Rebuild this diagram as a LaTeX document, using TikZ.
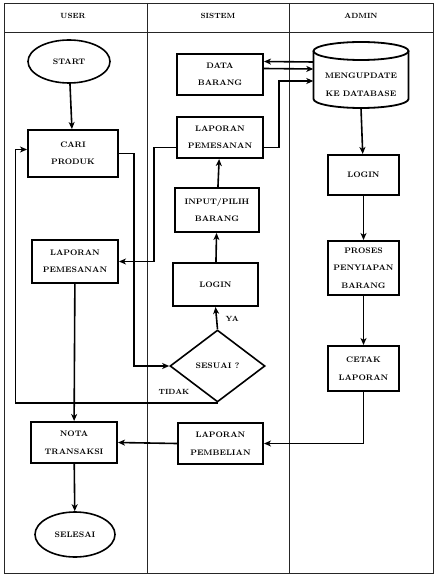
\documentclass[tikz,border=0pt]{standalone}
\usetikzlibrary{arrows.meta,shapes.geometric}
\begin{document}
\begin{tikzpicture}[x=1pt,y=-1pt,
  txt/.style={font=\fontsize{8}{17.5}\selectfont\bfseries, align=center},
  box/.style={txt, draw, line width=2pt, inner sep=0pt},
  oval/.style={txt, draw, ellipse, line width=1.6pt, inner sep=0pt},
  conn/.style={line width=1.6pt, -{Stealth[length=7pt,width=6pt,inset=2pt]}},
  lane/.style={line width=0.9pt, draw=black!85},
  hdr/.style={font=\fontsize{7.5}{8}\selectfont\bfseries}]
\useasboundingbox (0,0) rectangle (438,585);
% frame
\draw[lane] (4,3) rectangle (433,573);
\draw[lane] (4,32) -- (433,32);
\draw[lane] (147,3) -- (147,573);
\draw[lane] (289,3) -- (289,573);
\node[hdr] (huser) at (73,16) {USER};
\node[hdr] (hsis) at (218,16) {SISTEM};
\node[hdr] (hadm) at (361,16) {ADMIN};
% user lane
\node[oval, minimum width=82pt, minimum height=43pt] (start) at (69,61.5) {START};
\node[box, minimum width=90pt, minimum height=47pt] (cari) at (73,153.5) {CARI\\PRODUK};
\node[box, minimum width=86pt, minimum height=43pt] (lpu) at (75,261.5) {LAPORAN\\PEMESANAN};
\node[box, minimum width=86pt, minimum height=41pt] (nota) at (74,442.5) {NOTA\\TRANSAKSI};
\node[oval, minimum width=80pt, minimum height=45pt] (selesai) at (75,534.5) {SELESAI};
% sistem lane
\node[box, minimum width=86pt, minimum height=41pt] (data) at (220,74.5) {DATA\\BARANG};
\node[box, minimum width=86pt, minimum height=41pt] (lps) at (220,137.5) {LAPORAN\\PEMESANAN};
\node[box, minimum width=84pt, minimum height=44pt] (input) at (217,210) {INPUT/PILIH\\BARANG};
\node[box, minimum width=85pt, minimum height=43pt] (login1) at (215.5,284.5) {LOGIN};
\node[txt, draw, diamond, aspect=1.32, line width=1.6pt, inner sep=0pt, minimum width=95pt, minimum height=72pt] (sesuai) at (217.5,366) {SESUAI ?};
\node[box, minimum width=85pt, minimum height=41pt] (lpb) at (220.5,443.5) {LAPORAN\\PEMBELIAN};
% admin lane
\node[inner sep=0pt, minimum width=95pt, minimum height=66pt] (db) at (361,75) {};
\draw[line width=1.8pt] (361,51) ellipse [x radius=47.5pt, y radius=9pt];
\draw[line width=1.8pt] (313.5,51) -- (313.5,99) arc[start angle=180, end angle=360, x radius=47.5pt, y radius=9pt] -- (408.5,51);
\node[txt] (dbtext) at (361,85) {MENGUPDATE\\KE DATABASE};
\node[box, minimum width=71pt, minimum height=40pt] (login2) at (363.5,175) {LOGIN};
\node[box, minimum width=71pt, minimum height=54pt] (proses) at (363.5,268) {PROSES\\PENYIAPAN\\BARANG};
\node[box, minimum width=71pt, minimum height=45pt] (cetak) at (363.5,368.5) {CETAK\\LAPORAN};
% connectors
\draw[conn] (start) -- (cari);
\draw[conn] (cari.east) -- ++(15,0) |- (sesuai.west);
\draw[conn] (sesuai.south) -- ++(-202,0) |- ([yshift=4pt]cari.west);
\draw[conn] (sesuai.north) -- (login1.south) node[pos=0.45, right=5pt, hdr] (ya) {YA};
\node[hdr] (tidak) at (174,392) {TIDAK};
\draw[conn] (login1) -- (input);
\draw[conn] (input) -- (lps);
\draw[conn] ([yshift=-10pt]lps.east) -- ++(15,0) |- ([yshift=-6pt]db.west);
\draw[conn] ([yshift=13pt]db.west) -- ([yshift=13pt]data.east);
\draw[conn] ([yshift=6pt]data.east) -- ([yshift=6pt]db.west);
\draw[conn] ([yshift=-10pt]lps.west) -- ++(-22,0) |- (lpu.east);
\draw[conn] (lpu) -- (nota);
\draw[conn] (nota) -- (selesai);
\draw[conn] (db.south) -- (login2);
\draw[conn] (login2) -- (proses);
\draw[conn] (proses) -- (cetak);
\draw[conn] (cetak.south) |- (lpb.east);
\draw[conn] (lpb.west) -- (nota.east);
\end{tikzpicture}
\end{document}
